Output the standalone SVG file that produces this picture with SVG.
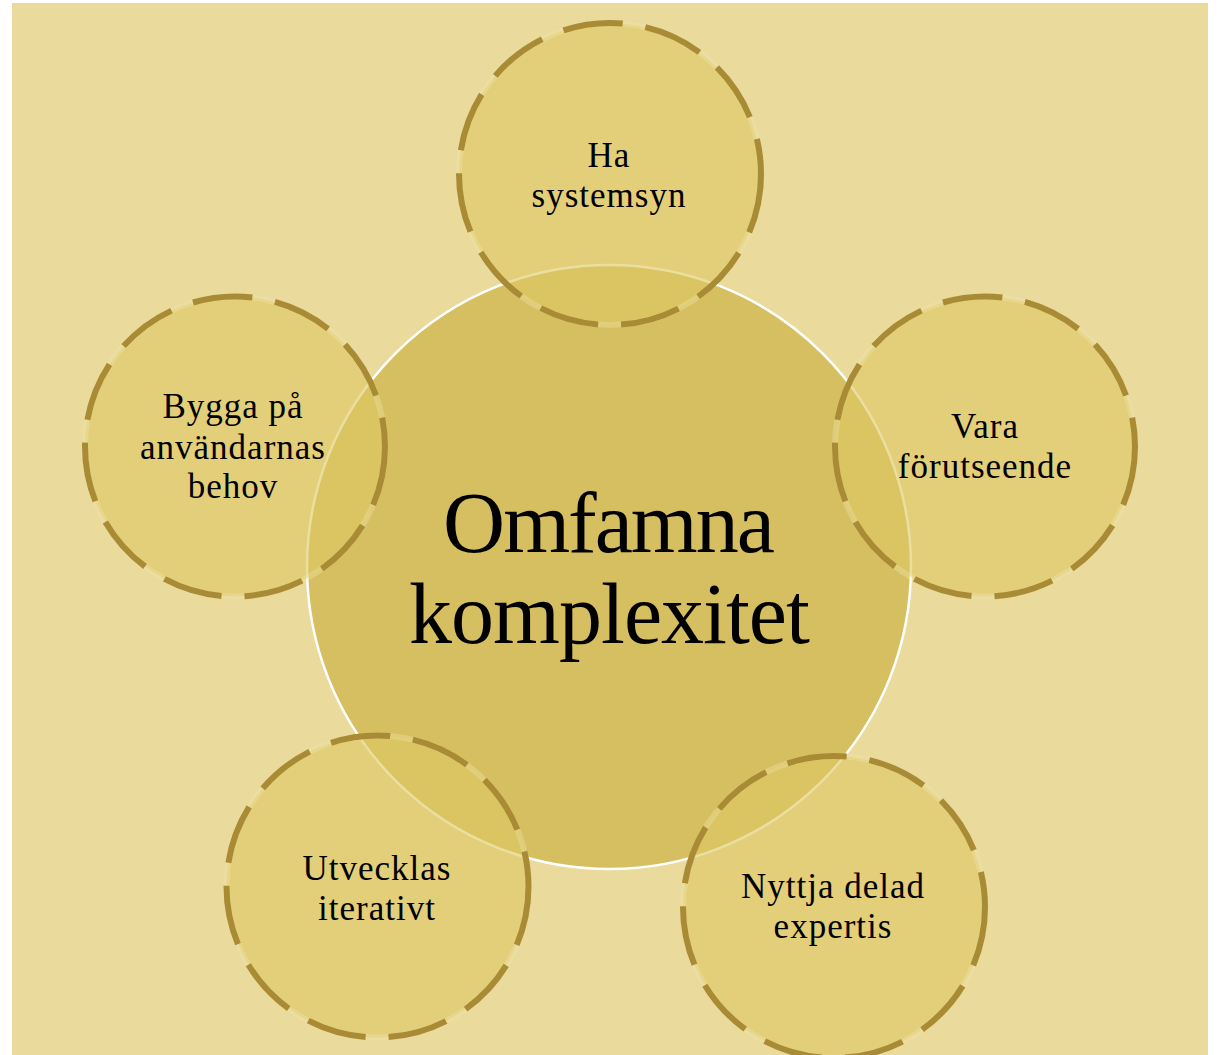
<svg xmlns="http://www.w3.org/2000/svg" width="1219" height="1055" viewBox="0 0 1219 1055">
<style>
.sat{fill:#DDC862;fill-opacity:0.6;stroke:#F2E6B0;stroke-opacity:0.35;stroke-width:6}
.dash{fill:none;stroke:#A98A35;stroke-width:6;stroke-dasharray:60 23}
.lbl{font-family:"Liberation Serif","Times New Roman",serif;font-size:35px;fill:#000;text-anchor:middle;letter-spacing:1px}
.big{font-family:"Liberation Serif","Times New Roman",serif;font-size:86px;fill:#000;text-anchor:middle}
</style>
<rect x="12" y="3" width="1196" height="1052" fill="#EADA9C"/>
<g id="center">
<circle cx="609" cy="567" r="302" fill="#D6BF61" stroke="#FFFFFF" stroke-width="2.5"/>
<text class="big" x="608" y="552" letter-spacing="-2">Omfamna</text>
<text class="big" x="609" y="643" letter-spacing="-1">komplexitet</text>
</g>
<g id="connectors"></g>
<g id="n-top">
<circle class="sat" cx="610" cy="174" r="151"/>
<circle class="dash" cx="610" cy="174" r="151"/>
<text class="lbl" x="609" y="167">Ha</text>
<text class="lbl" x="609" y="207">systemsyn</text>
</g>
<g id="n-right">
<circle class="sat" cx="985" cy="446.5" r="150"/>
<circle class="dash" cx="985" cy="446.5" r="150"/>
<text class="lbl" x="985" y="438">Vara</text>
<text class="lbl" x="985" y="478">förutseende</text>
</g>
<g id="n-left">
<circle class="sat" cx="235" cy="446.5" r="150"/>
<circle class="dash" cx="235" cy="446.5" r="150"/>
<text class="lbl" x="233" y="418">Bygga på</text>
<text class="lbl" x="233" y="459">användarnas</text>
<text class="lbl" x="233" y="498">behov</text>
</g>
<g id="n-bottomleft">
<circle class="sat" cx="377.5" cy="886.5" r="151"/>
<circle class="dash" cx="377.5" cy="886.5" r="151"/>
<text class="lbl" x="377" y="880">Utvecklas</text>
<text class="lbl" x="377" y="920">iterativt</text>
</g>
<g id="n-bottomright">
<circle class="sat" cx="834" cy="907" r="151"/>
<circle class="dash" cx="834" cy="907" r="151"/>
<text class="lbl" x="833" y="898">Nyttja delad</text>
<text class="lbl" x="833" y="938">expertis</text>
</g>
</svg>
